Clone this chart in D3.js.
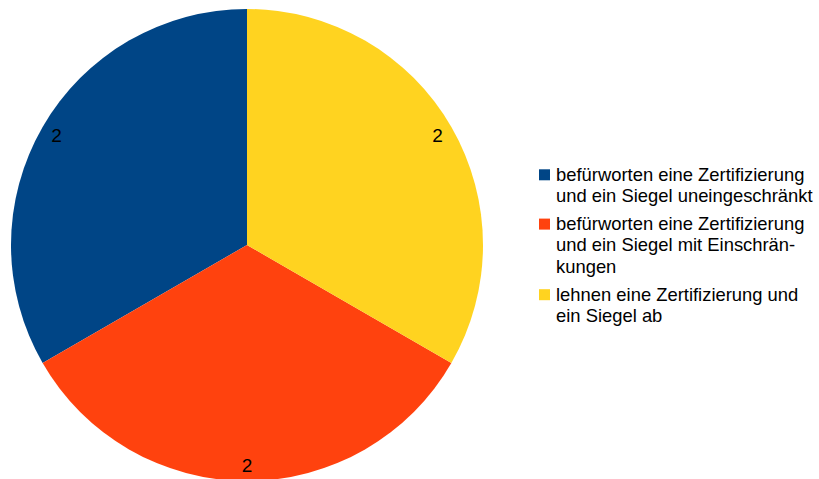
<!DOCTYPE html>
<html>
<head>
<meta charset="utf-8">
<script src="https://cdn.jsdelivr.net/npm/d3@7"></script>
<style>
  body { margin: 0; background: #fff; }
  svg { display: block; }
  text { font-family: "Liberation Sans", Arial, sans-serif; fill: #000; }
</style>
</head>
<body>
<div id="chart"></div>
<script>
// data
var categories = [
    ["befürworten eine Zertifizierung", "und ein Siegel uneingeschränkt"],
    ["befürworten eine Zertifizierung", "und ein Siegel mit Einschrän-", "kungen"],
    ["lehnen eine Zertifizierung und", "ein Siegel ab"]
];
var values = [2, 2, 2];
var colors = ["#004586", "#ff420e", "#ffd320"];

var width = 819,
    height = 479,
    cx = 247,
    cy = 245,
    radius = 236;

var svg = d3.select("#chart")
    .append("svg")
    .attr("width", width)
    .attr("height", height);

// pie goes counter clockwise from the top, like the original
var pie = d3.pie()
    .sort(null)
    .startAngle(0)
    .endAngle(-2 * Math.PI);

var arc = d3.arc()
    .innerRadius(0)
    .outerRadius(radius);

var labelArc = d3.arc()
    .innerRadius(220)
    .outerRadius(220);

var slices = svg.append("g")
    .attr("transform", "translate(" + cx + "," + cy + ")");

var arcs = pie(values);

slices.selectAll("path")
    .data(arcs)
    .enter().append("path")
    .attr("d", arc)
    .attr("fill", function(d, i) { return colors[i]; });

slices.selectAll(".val")
    .data(arcs)
    .enter().append("text")
    .attr("class", "val")
    .attr("transform", function(d) { return "translate(" + labelArc.centroid(d) + ")"; })
    .attr("dy", "0.36em")
    .attr("text-anchor", "middle")
    .style("font-size", "19px")
    .text(function(d) { return d.data; });

// legend
var lineH = 21.3,
    gap = 28,
    legendX = 539,
    y0 = 180.7;

var legend = svg.append("g");
var y = y0;
categories.forEach(function(lines, i) {
    var g = legend.append("g")
        .attr("transform", "translate(" + legendX + "," + y + ")");
    g.append("rect")
        .attr("x", 0)
        .attr("y", -11.4)
        .attr("width", 11)
        .attr("height", 11)
        .attr("fill", colors[i]);
    g.selectAll("text")
        .data(lines)
        .enter().append("text")
        .attr("x", 17)
        .attr("y", function(d, j) { return j * lineH; })
        .style("font-size", "18.4px")
        .text(function(d) { return d; });
    y += (lines.length - 1) * lineH + gap;
});
</script>
</body>
</html>
